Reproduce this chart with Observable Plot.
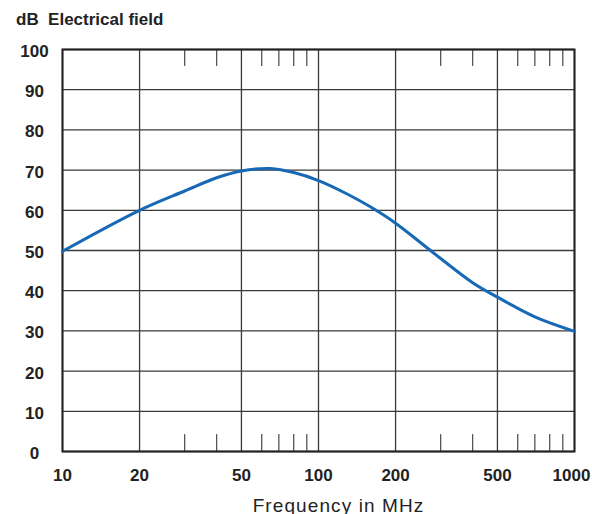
<!DOCTYPE html>
<html>
<head>
<meta charset="utf-8">
<script src="https://cdn.jsdelivr.net/npm/d3@7"></script>
<script src="https://cdn.jsdelivr.net/npm/@observablehq/plot@0.6"></script>
<style>
  html, body { margin: 0; padding: 0; background: #fff; }
  #wrap { position: relative; width: 592px; height: 514px; }
  #title { position: absolute; left: 16px; top: 11px; font: bold 17px "Liberation Sans", Arial, sans-serif; line-height: 17px; white-space: pre; color: #222; }
  #chart { position: absolute; left: 0; top: 0; }
  g[font-size="19"] text { letter-spacing: 1.1px; }
</style>
</head>
<body>
<div id="wrap">
  <div id="chart"></div>
  <div id="title">dB  Electrical field</div>
</div>
<script>
// Curve: frequency (MHz) and field level (dB)
const freq = [10, 20, 30, 40, 50, 65, 80, 100, 130, 160, 200, 250, 300, 400, 500, 700, 1000];
const dB   = [49.8, 60, 64.8, 68.1, 69.8, 70.4, 69.4, 67.4, 64.0, 60.8, 56.8, 52.0, 48.0, 42.0, 38.4, 33.5, 29.9];

// Axis ticks
const xTicks = [10, 20, 50, 100, 200, 500];
const xLastTick = [1000];
const minorTicks = [30, 40, 60, 70, 80, 90, 300, 400, 600, 700, 800, 900];
const yTicks = [0, 10, 20, 30, 40, 50, 60, 70, 80, 90, 100];
const xTitle = "Frequency in MHz";

const data = freq.map((f, i) => ({f, v: dB[i]}));
const font = "Liberation Sans, Arial, sans-serif";
const allX = xTicks.concat(xLastTick);

const labelStyle = {frameAnchor: "bottom", dy: 24.5, lineAnchor: "middle", fontSize: 17, fontWeight: "bold", fill: "#222"};

const chart = Plot.plot({
  width: 592,
  height: 514,
  marginTop: 49,
  marginLeft: 62,
  marginRight: 18,
  marginBottom: 63,
  style: {fontFamily: font, color: "#222", background: "transparent"},
  x: {type: "log", domain: [10, 1000], label: null, axis: null},
  y: {domain: [0, 100], label: null, axis: null},
  marks: [
    Plot.ruleX(allX, {x: d => d, stroke: "#3a3a3a", strokeWidth: 1.3}),
    Plot.ruleY(yTicks, {y: d => d, stroke: "#3a3a3a", strokeWidth: 1.3}),
    Plot.ruleX(minorTicks, {x: d => d, y1: 100, y2: 95.8, stroke: "#555", strokeWidth: 1.3}),
    Plot.ruleX(minorTicks, {x: d => d, y1: 0, y2: 4.2, stroke: "#555", strokeWidth: 1.3}),
    Plot.frame({stroke: "#222", strokeWidth: 2}),
    Plot.line(data, {x: "f", y: "v", stroke: "#1769b6", strokeWidth: 3, curve: "catmull-rom"}),
    Plot.text(xTicks, {x: d => d, text: d => String(d), ...labelStyle}),
    Plot.text(xLastTick, {x: d => d, text: d => String(d), ...labelStyle, dx: -3}),
    Plot.text(yTicks, {y: d => d, text: d => String(d), frameAnchor: "left", dx: -28, dy: 2, textAnchor: "middle", fontSize: 17, fontWeight: "bold", fill: "#222"}),
    Plot.text([xTitle], {frameAnchor: "bottom", dx: 20, dy: 60, fontSize: 19, lineAnchor: "bottom", fill: "#222"})
  ]
});
document.getElementById("chart").appendChild(chart);
</script>
</body>
</html>
